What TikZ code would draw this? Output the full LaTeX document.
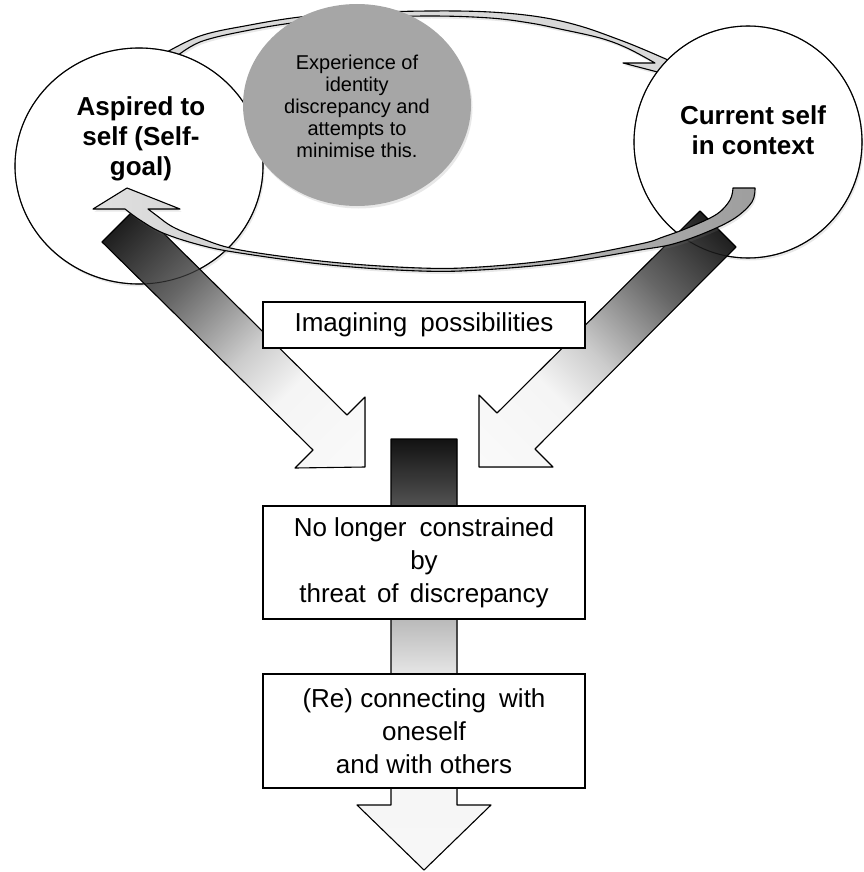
\documentclass[tikz,border=0pt]{standalone}
\usepackage{fontspec}
\setmainfont{Liberation Sans}
\usetikzlibrary{shapes.geometric,shadows}
\colorlet{gA}{black!3}\colorlet{gB}{black!4}\colorlet{gC}{black!8}
\colorlet{gD}{black!27}\colorlet{gE}{black!67}\colorlet{gF}{black!93}
\colorlet{dA}{black!2}\colorlet{dB}{black!4}\colorlet{dC}{black!20}
\colorlet{dD}{black!60}\colorlet{dE}{black!95}
\pgfdeclareverticalshading{vgrad}{100bp}{color(0bp)=(gA); color(25bp)=(gA); color(40bp)=(gB); color(47bp)=(gC); color(54bp)=(gD); color(67bp)=(gE); color(75bp)=(gF); color(100bp)=(gF)}
\pgfdeclareverticalshading{dgrad}{100bp}{color(0bp)=(dA); color(15bp)=(dA); color(35bp)=(dB); color(46bp)=(dC); color(64bp)=(dD); color(85bp)=(dE); color(100bp)=(dE)}
\begin{document}
\begin{tikzpicture}[x=1pt,y=-1pt,
  outl/.style={draw=black, line width=1.1pt, line join=round},
  shad/.style={drop shadow={opacity=0.18, shadow xshift=1.5pt, shadow yshift=-2.5pt}},
  circ/.style={ellipse, draw=black, line width=1.1pt, fill=white, inner sep=0pt},
  bigtxt/.style={font=\bfseries\fontsize{26}{30}\selectfont, align=center, inner sep=0pt},
  discstyle/.style={ellipse, fill=black!35, inner sep=0pt, minimum width=228pt, minimum height=202pt},
  disctxt/.style={font=\fontsize{20}{22}\selectfont, align=center, inner sep=0pt},
  boxstyle/.style={draw=black, line width=1.1pt, fill=white, minimum width=322pt, align=center, inner sep=0pt, font=\fontsize{26}{33}\selectfont}
]
\useasboundingbox (0,0) rectangle (863,872);

% top curved arrow (behind circles)
\filldraw[outl, fill=black!15, shad]
  plot[smooth, tension=.6] coordinates {(160,56) (200,36) (250,25) (300,17) (350,13) (430,11) (490,12) (540,17) (580,26) (620,40) (645,50) (668,60)}
  -- (688,80) -- (623,63) -- (655,63)
  -- plot[smooth, tension=.6] coordinates {(655,63) (627,48) (600,38) (560,29) (530,23) (490,18) (430,16) (350,18) (300,22) (250,30) (200,42) (172,60)}
  -- cycle;

% circles
\node[circ, shad, minimum width=248pt, minimum height=236pt] (asp) at (139,166) {};
\node[circ, shad, minimum width=228pt, minimum height=232pt] (cur) at (748,142) {};

% diagonal block arrows
\filldraw[outl, shading=dgrad, shading angle=45]
  (102,242) -- (137,207) -- (347,415) -- (365,397) -- (365,467) -- (295,468) -- (313,450) -- cycle;
\filldraw[outl, shading=dgrad, shading angle=-45]
  (700,211) -- (736,247) -- (535,449) -- (553,467) -- (479,467) -- (479,395) -- (497,413) -- cycle;

% circle outlines showing through
\draw[line width=1pt, black, opacity=.55] (asp.center) ellipse [x radius=124pt, y radius=118pt];
\draw[line width=1pt, black, opacity=.55] (cur.center) ellipse [x radius=114pt, y radius=116pt];

% bottom curved arrow
\filldraw[outl, left color=black!12, right color=black!38, shad]
  plot[smooth, tension=.6] coordinates {(755,188) (752,202) (735,218) (707,232) (673,244) (640,250) (560,263) (480,270) (420,271) (330,265) (240,253) (200,245) (163,233) (140,220) (125,209)}
  -- (93,209) -- (127,188) -- (180,209) -- (148,209)
  -- plot[smooth, tension=.6] coordinates {(148,209) (156,215) (173,227) (200,238) (240,250) (330,262) (420,268) (480,267) (560,259) (640,244) (663,237) (690,227) (717,214) (730,200) (733,188)}
  -- cycle;

% grey ellipse
\node[discstyle, shad] (disc) at (357,105) {};
\node[disctxt] (disct) at (357,106) {Experience of\\identity\\discrepancy and\\attempts to\\minimise this.};

% circle texts
\node[bigtxt] (aspt) at (141,139) {Aspired to\\self (Self-\\goal)};
\node[bigtxt] (curt) at (753,130) {Current self\\in context};

% vertical block arrow
\filldraw[outl, shading=vgrad]
  (391,439) -- (457,439) -- (457,805) -- (491,805) -- (424,870) -- (357,805) -- (391,805) -- cycle;

% boxes
\node[boxstyle, minimum height=46pt] (imag) at (424,325) {Imagining\hspace{6pt} possibilities};
\node[boxstyle, minimum height=113pt] (free) at (424,562.5) {No longer\hspace{6pt} constrained\\by\\threat\hspace{4pt} of\hspace{4pt} discrepancy};
\node[boxstyle, minimum height=114pt] (conn) at (424,731) {(Re) connecting\hspace{6pt} with\\oneself\\and with others};
\end{tikzpicture}
\end{document}
